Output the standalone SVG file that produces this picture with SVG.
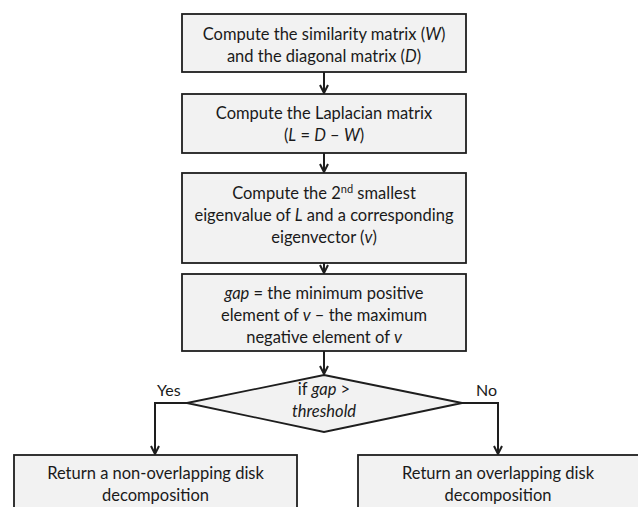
<svg xmlns="http://www.w3.org/2000/svg" width="638" height="507" viewBox="0 0 638 507">
  <style>
    .box { fill: #f2f2f2; stroke: #1e1e1e; stroke-width: 1.8; }
    .lbl { font-family: Lato, "Open Sans", "Liberation Sans", sans-serif; font-size: 16.5px; fill: #1a1a1a; text-anchor: middle; }
    .tag { font-family: Lato, "Open Sans", "Liberation Sans", sans-serif; font-size: 16px; fill: #1a1a1a; }
    .i { font-style: italic; }
    .edge { fill: none; stroke: #1e1e1e; stroke-width: 2; marker-end: url(#arrow); }
  </style>
  <defs>
    <marker id="arrow" viewBox="0 0 10 10" refX="9" refY="5" markerWidth="10" markerHeight="10" markerUnits="userSpaceOnUse" orient="auto">
      <path d="M1,1 L9,5 L1,9" fill="none" stroke="#1e1e1e" stroke-width="2"/>
    </marker>
  </defs>

  <rect width="638" height="507" fill="#ffffff"/>

  <g id="connectors">
    <line class="edge" x1="324" y1="72" x2="324" y2="93"/>
    <line class="edge" x1="324" y1="153" x2="324" y2="172"/>
    <line class="edge" x1="324" y1="263" x2="324" y2="273"/>
    <line class="edge" x1="324" y1="351" x2="324" y2="374"/>
    <polyline class="edge" points="187,403 155,403 155,454"/>
    <polyline class="edge" points="462,403 498,403 498,454"/>
    <text class="tag" x="157" y="396">Yes</text>
    <text class="tag" x="476" y="396">No</text>
  </g>

  <g id="similarity">
    <rect class="box" x="182" y="14" width="284" height="58"/>
    <text class="lbl" x="324" y="40">Compute the similarity matrix (<tspan class="i">W</tspan>)</text>
    <text class="lbl" x="324" y="62">and the diagonal matrix (<tspan class="i">D</tspan>)</text>
  </g>

  <g id="laplacian">
    <rect class="box" x="182" y="94" width="284" height="59"/>
    <text class="lbl" x="324" y="119">Compute the Laplacian matrix</text>
    <text class="lbl" x="324" y="141">(<tspan class="i">L</tspan> = <tspan class="i">D</tspan> – <tspan class="i">W</tspan>)</text>
  </g>

  <g id="eigen">
    <rect class="box" x="182" y="173" width="284" height="90"/>
    <text class="lbl" x="324" y="199">Compute the 2<tspan font-size="11" dy="-6">nd</tspan><tspan dy="6"> smallest</tspan></text>
    <text class="lbl" x="324" y="221">eigenvalue of <tspan class="i">L</tspan> and a corresponding</text>
    <text class="lbl" x="324" y="243">eigenvector (<tspan class="i">v</tspan>)</text>
  </g>

  <g id="gap">
    <rect class="box" x="182" y="274" width="284" height="77"/>
    <text class="lbl" x="324" y="299"><tspan class="i">gap</tspan> = the minimum positive</text>
    <text class="lbl" x="324" y="321">element of <tspan class="i">v</tspan> – the maximum</text>
    <text class="lbl" x="324" y="343">negative element of <tspan class="i">v</tspan></text>
  </g>

  <g id="decision">
    <polygon class="box" points="324,375 462,403 324,432 187,403"/>
    <text class="lbl" x="324" y="395">if <tspan class="i">gap</tspan> &gt;</text>
    <text class="lbl i" x="324" y="417">threshold</text>
  </g>

  <g id="non-overlapping">
    <rect class="box" x="14" y="455" width="283" height="60"/>
    <text class="lbl" x="155.5" y="479">Return a non-overlapping disk</text>
    <text class="lbl" x="155.5" y="501">decomposition</text>
  </g>

  <g id="overlapping">
    <rect class="box" x="358" y="455" width="283" height="60"/>
    <text class="lbl" x="498" y="479">Return an overlapping disk</text>
    <text class="lbl" x="498" y="501">decomposition</text>
  </g>
</svg>
